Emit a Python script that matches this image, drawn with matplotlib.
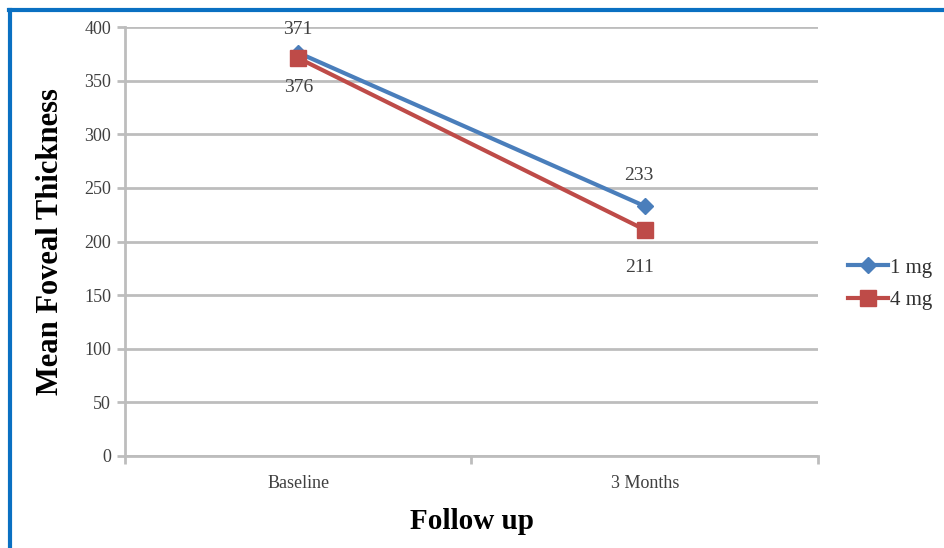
import matplotlib
matplotlib.use("Agg")
import matplotlib.pyplot as plt
from matplotlib.lines import Line2D

categories = ["Baseline", "3 Months"]
series_names = ["1 mg", "4 mg"]
values_1mg = [376, 233]
values_4mg = [371, 211]
# data labels as printed in the reference (text, series, point)
label_texts_1mg = ["371", "233"]
label_texts_4mg = ["376", "211"]
yticks = [0, 50, 100, 150, 200, 250, 300, 350, 400]

W, H = 945, 548
fig = plt.figure(figsize=(W / 100, H / 100), dpi=100)
plt.rcParams['font.family'] = ['Liberation Serif', 'DejaVu Serif']

ax = fig.add_axes([125 / W, 1 - 456 / H, (818 - 125) / W, (456 - 27) / H])

blue = "#4a7ebb"
red = "#be4b48"
grid = "#bdbdbd"

x = list(range(len(categories)))
ax.plot(x, values_1mg, color=blue, lw=3, marker="D", ms=8, zorder=3, label=series_names[0])
ax.plot(x, values_4mg, color=red, lw=3, marker="s", ms=11, zorder=4, label=series_names[1])

ax.set_xlim(-0.5, 1.5)
ax.set_ylim(0, 400)
ax.set_yticks(yticks)
ax.set_xticks(x)
ax.set_xticklabels(categories, fontsize=13, color="#404040")
ax.tick_params(axis="x", length=0, pad=14)
ax.set_xticks([-0.5, 0.5, 1.5], minor=True)
ax.tick_params(axis="x", which="minor", length=6, width=2, color=grid)
ax.tick_params(axis="y", length=6, width=2, color=grid, labelsize=13, labelcolor="#404040", pad=4)
ax.yaxis.grid(True, color=grid, lw=2)
ax.set_axisbelow(True)
for s in ["top", "right"]:
    ax.spines[s].set_visible(False)
for s in ["left", "bottom"]:
    ax.spines[s].set_color(grid)
    ax.spines[s].set_linewidth(2)

lab_kw = dict(ha="center", va="center", fontsize=14, color="#404040", zorder=5)
ax.annotate(label_texts_1mg[0], (x[0], values_1mg[0]), xytext=(0, 17), textcoords="offset points", **lab_kw)
ax.annotate(label_texts_4mg[0], (x[0], values_4mg[0]), xytext=(0, -21), textcoords="offset points", **lab_kw)
ax.annotate(label_texts_1mg[1], (x[1], values_1mg[1]), xytext=(-4, 22), textcoords="offset points", **lab_kw)
ax.annotate(label_texts_4mg[1], (x[1], values_4mg[1]), xytext=(-4, -27), textcoords="offset points", **lab_kw)

ax.set_ylabel("Mean Foveal Thickness", fontsize=22, fontweight="bold", labelpad=14)
ax.set_xlabel("Follow up", fontsize=21, fontweight="bold", labelpad=11)

leg = ax.legend(loc="center left", bbox_to_anchor=(848 / W, 1 - 284 / H), bbox_transform=fig.transFigure,
                frameon=False, fontsize=15, handlelength=1.9, handletextpad=0.1, labelspacing=0.6,
                borderaxespad=0, borderpad=0)
for t in leg.get_texts():
    t.set_color("#303030")

# blue frame around the figure (top and left visible)
fig.add_artist(Line2D([9 / W, 1.0], [1 - 10 / H, 1 - 10 / H], transform=fig.transFigure, color="#0a70c2", lw=3))
fig.add_artist(Line2D([10 / W, 10 / W], [0, 1 - 10 / H], transform=fig.transFigure, color="#0a70c2", lw=3))

fig.savefig("out.png", dpi=100)
